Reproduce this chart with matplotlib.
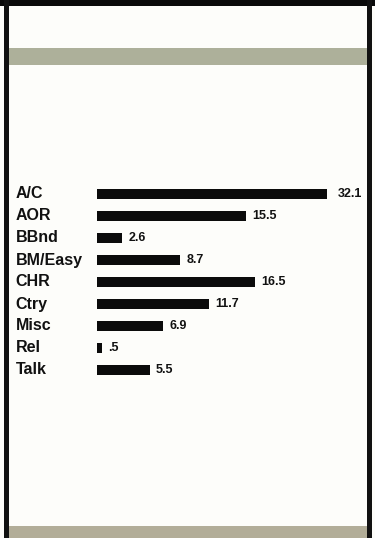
import matplotlib
matplotlib.use("Agg")
import matplotlib.pyplot as plt
from matplotlib.patches import Rectangle
from matplotlib.transforms import blended_transform_factory

# Format shares by category
categories = ["A/C", "AOR", "BBnd", "BM/Easy", "CHR", "Ctry", "Misc", "Rel", "Talk"]
shares = [32.1, 15.5, 2.6, 8.7, 16.5, 11.7, 6.9, 0.5, 5.5]
value_labels = ["32.1", "15.5", "2.6", "8.7", "16.5", "11.7", "6.9", ".5", "5.5"]

W, H = 375, 538
DPI = 100
fig = plt.figure(figsize=(W / DPI, H / DPI), dpi=DPI)
fig.patch.set_facecolor("#fdfdfa")


def px_rect(x0, y0, x1, y1, color):
    """Rectangle given in pixel coordinates measured from the top-left."""
    fig.patches.append(Rectangle((x0 / W, 1 - y1 / H), (x1 - x0) / W, (y1 - y0) / H,
                                 transform=fig.transFigure, facecolor=color,
                                 edgecolor="none", zorder=0))


# Page frame and decorative rules
px_rect(0, 0, W, 6, "#0a0a0a")
px_rect(4, 0, 8.5, H, "#111111")
px_rect(367, 0, 372, H, "#111111")
px_rect(8.5, 48, 367, 65, "#adb09a")
px_rect(8.5, 526, 367, H, "#b2ad98")

# Bar axes: rows 22 px apart, first row centred at y=194 px
row_gap = 22
first_row = 194
n = len(categories)
ax_left, ax_right = 97, 327
ax_top = first_row - row_gap / 2
ax_bot = first_row + row_gap * (n - 1) + row_gap / 2
ax = fig.add_axes([ax_left / W, 1 - ax_bot / H, (ax_right - ax_left) / W, (ax_bot - ax_top) / H])
ax.set_facecolor("none")

xmax = 24.0
ax.set_xlim(0, xmax)
ax.set_ylim(n - 0.5, -0.5)
ax.axis("off")

ys = list(range(n))
ax.barh(ys, shares, height=0.48, color="#0b0b0b", edgecolor="none")

bold = dict(family=["Liberation Sans", "DejaVu Sans"], fontweight="bold", color="#111111")

for y, v, lab in zip(ys, shares, value_labels):
    end = min(v, xmax)
    extra = 3.5 if v > xmax else 0
    ax.annotate(lab, xy=(end, y), xytext=(4.5 + extra, 0), textcoords="offset points",
                ha="left", va="center", fontsize=9, annotation_clip=False, **bold)

# Category names aligned to the left margin
trans = blended_transform_factory(fig.transFigure, ax.transData)
for y, cat in zip(ys, categories):
    ax.text(15.5 / W, y, cat, transform=trans, ha="left", va="center",
            fontsize=11.5, clip_on=False, **bold)

fig.savefig("out.png", dpi=DPI, facecolor=fig.get_facecolor())
